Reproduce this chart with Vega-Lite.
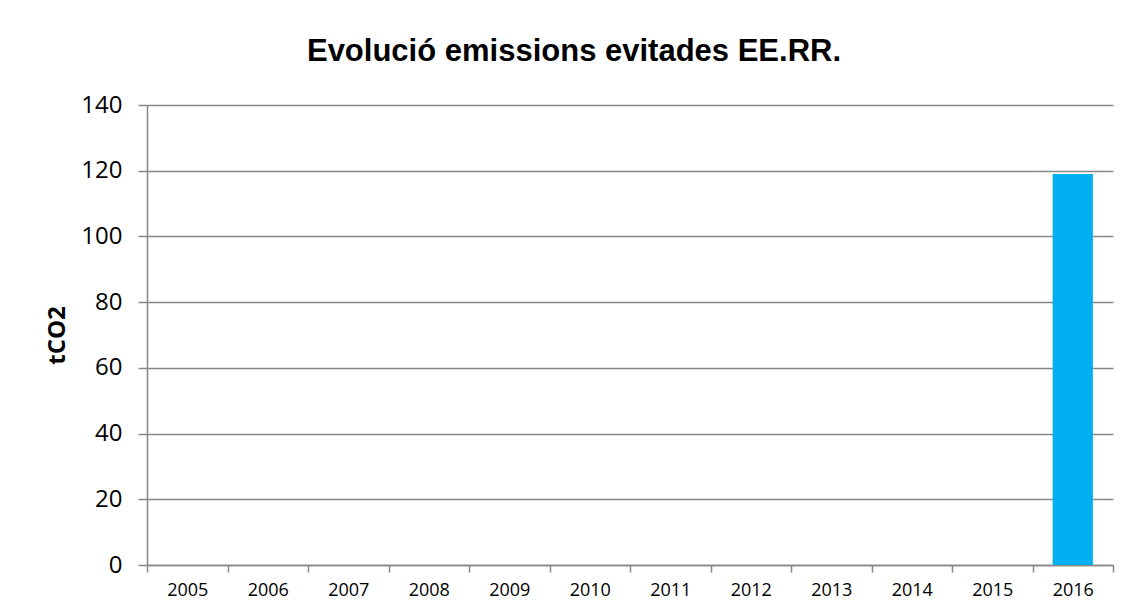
{
  "$schema": "https://vega.github.io/schema/vega-lite/v6.json",
  "autosize": {"type": "none"},
  "width": 966,
  "height": 460,
  "padding": {"left": 147, "top": 105, "right": 17, "bottom": 49},
  "background": "white",
  "title": {
    "text": "Evolució emissions evitades EE.RR.",
    "font": "Liberation Sans",
    "fontSize": 31,
    "fontWeight": "bold",
    "color": "#000000",
    "anchor": "middle",
    "dx": -56,
    "offset": 25
  },
  "data": {
    "values": [
      {"year": "2005", "tCO2": 0},
      {"year": "2006", "tCO2": 0},
      {"year": "2007", "tCO2": 0},
      {"year": "2008", "tCO2": 0},
      {"year": "2009", "tCO2": 0},
      {"year": "2010", "tCO2": 0},
      {"year": "2011", "tCO2": 0},
      {"year": "2012", "tCO2": 0},
      {"year": "2013", "tCO2": 0},
      {"year": "2014", "tCO2": 0},
      {"year": "2015", "tCO2": 0},
      {"year": "2016", "tCO2": 119}
    ]
  },
  "mark": {"type": "bar", "color": "#00B0F0", "width": {"band": 0.5}},
  "encoding": {
    "x": {
      "field": "year",
      "type": "ordinal",
      "scale": {"paddingInner": 0, "paddingOuter": 0},
      "axis": {
        "title": null,
        "labelAngle": 0,
        "labelFont": "Open Sans",
        "labelFontSize": 18,
        "labelColor": "#000000",
        "labelPadding": 9,
        "tickBand": "extent",
        "tickSize": 7,
        "tickColor": "#868686",
        "tickWidth": 1.5,
        "domainColor": "#868686",
        "domainWidth": 1.5,
        "grid": false
      }
    },
    "y": {
      "field": "tCO2",
      "type": "quantitative",
      "scale": {"domain": [0, 140], "nice": false},
      "axis": {
        "title": "tCO2",
        "titleFont": "Open Sans",
        "titleFontSize": 24,
        "titleFontWeight": "bold",
        "titleColor": "#000000",
        "titlePadding": 11,
        "values": [0, 20, 40, 60, 80, 100, 120, 140],
        "labelFont": "Open Sans",
        "labelFontSize": 24,
        "labelColor": "#000000",
        "labelPadding": 16,
        "tickSize": 9,
        "tickColor": "#868686",
        "tickWidth": 1.5,
        "domainColor": "#868686",
        "domainWidth": 1.5,
        "grid": true,
        "gridColor": "#868686",
        "gridWidth": 1.5
      }
    }
  },
  "config": {
    "view": {"stroke": null}
  }
}
